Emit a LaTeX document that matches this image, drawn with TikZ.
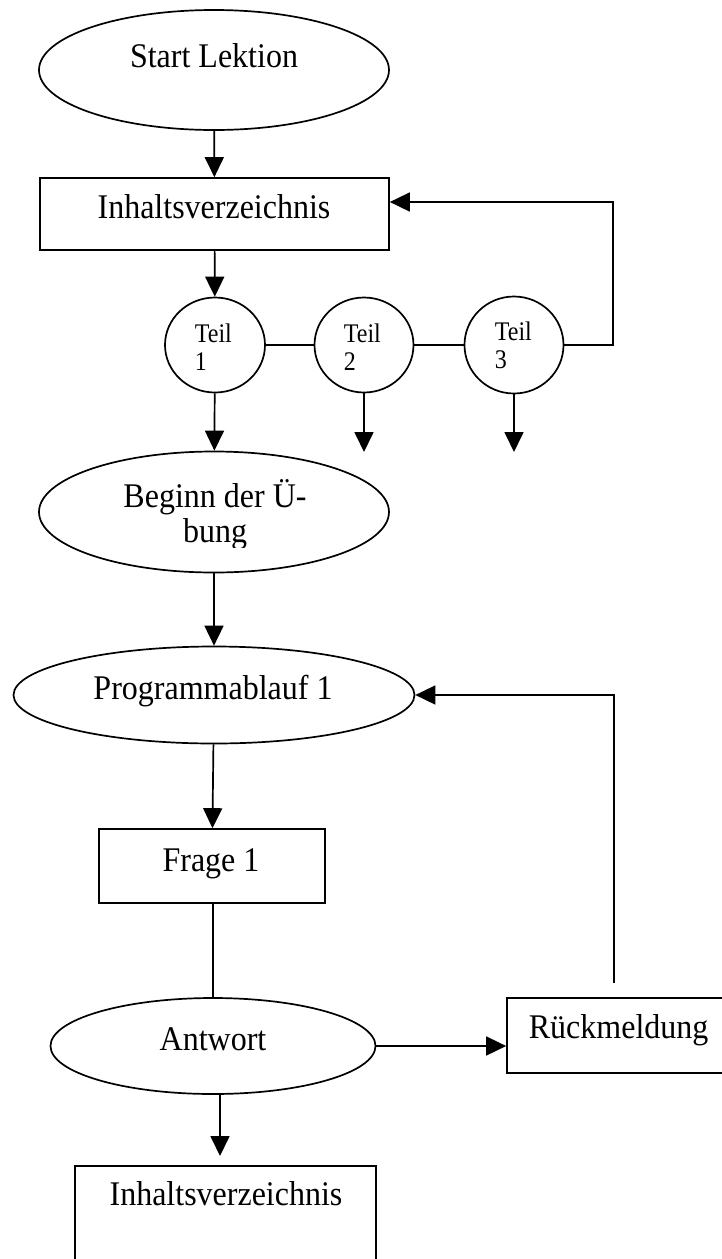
\documentclass[tikz,border=0pt]{standalone}
\usepackage{fontspec}
\usepackage{graphicx}
\setmainfont{Liberation Serif}
\usetikzlibrary{shapes.geometric,arrows.meta}
% text set slightly tall, as in the drawing
\newcommand{\tallA}[1]{\scalebox{1}[1.08]{#1}}
\newcommand{\tallB}[1]{\scalebox{1}[1.12]{#1}}
\begin{document}
\begin{tikzpicture}[x=1pt,y=-1pt,
  line width=1.7pt,
  oval/.style={draw,ellipse,inner sep=0pt},
  box/.style={draw,rectangle,inner sep=0pt},
  txt/.style={anchor=base,inner sep=0pt,font=\fontsize{32}{36}\selectfont},
  txtl/.style={anchor=base west,inner sep=0pt,font=\fontsize{32}{36}\selectfont},
  small/.style={anchor=base west,inner sep=0pt,font=\fontsize{24}{28}\selectfont},
  flow/.style={-{Triangle[length=20pt,width=19pt]}},
]
\clip (0,0) rectangle (722,1259);

% shapes
\node[oval,minimum width=350pt,minimum height=120pt] (start) at (214,70) {};
\node[box,minimum width=349pt,minimum height=72pt] (inh1) at (214.5,214) {};
\node[oval,minimum width=100pt,minimum height=95pt] (t1) at (215,345) {};
\node[oval,minimum width=99pt,minimum height=95pt] (t2) at (364,345) {};
\node[oval,minimum width=99pt,minimum height=97pt] (t3) at (514,345) {};
\node[oval,minimum width=350pt,minimum height=121pt] (beg) at (214,512) {};
\node[oval,minimum width=401pt,minimum height=97pt] (prog) at (214,695) {};
\node[box,minimum width=226pt,minimum height=74pt] (frage) at (212,866) {};
\node[oval,minimum width=325pt,minimum height=96pt] (ant) at (213,1046) {};
\node[box,minimum width=228pt,minimum height=75pt] (rm) at (621,1035.5) {};
\node[box,minimum width=301pt,minimum height=140pt] (inh2) at (225.5,1236) {};

% texts
\node[txt] (lstart) at (214,67) {\tallA{Start Lektion}};
\node[txt] (linh1) at (214,218) {\tallA{Inhaltsverzeichnis}};
\node[small] (lt1a) at (194,342) {\tallB{Teil}};
\node[small] (lt1b) at (194,370) {\tallB{1}};
\node[small] (lt2a) at (343,342) {\tallB{Teil}};
\node[small] (lt2b) at (343,370) {\tallB{2}};
\node[small] (lt3a) at (494,340) {\tallB{Teil}};
\node[small] (lt3b) at (494,368) {\tallB{3}};
\node[txt] (lbeg1) at (215,507) {\tallA{Beginn der Ü-}};
\begin{scope}
  \clip (0,0) rectangle (722,547);
  \node[txt] (lbeg2) at (215,542) {\tallA{bung}};
\end{scope}
\node[txt] (lprog) at (213,699) {\tallA{Programmablauf 1}};
\node[txt] (lfrage) at (211,871) {\tallA{Frage 1}};
\node[txt] (lant) at (213,1050) {\tallA{Antwort}};
\node[txtl] (lrm) at (528,1038) {\tallA{Rückmeldung}};
\node[txt] (linh2) at (226,1205) {\tallA{Inhaltsverzeichnis}};

% free ends and bends
\coordinate (back1) at (613,202);
\coordinate (e2) at (364,452);
\coordinate (e3) at (514,452);
\coordinate (back2) at (614,983);
\coordinate (e4) at (220,1156);

% connectors
\draw[flow] (start) -- (inh1);
\draw[flow] (inh1) -- (t1);
\draw (t1.east) -- (t2.west);
\draw (t2.east) -- (t3.west);
\draw[flow] (t3.east) -| (back1) -- (back1 -| inh1.east);
\draw[flow] (t1) -- (beg);
\draw[flow] (t2) -- (e2);
\draw[flow] (t3) -- (e3);
\draw[flow] (beg) -- (prog);
\draw[flow] (back2) |- (prog.east);
\draw[flow] (prog) -- (frage);
\draw (ant.north |- frage.south) -- (ant.north);
\draw[flow] (ant.east) -- (ant.east -| rm.west);
\draw[flow] (e4 |- ant.south) -- (e4);
\end{tikzpicture}
\end{document}
